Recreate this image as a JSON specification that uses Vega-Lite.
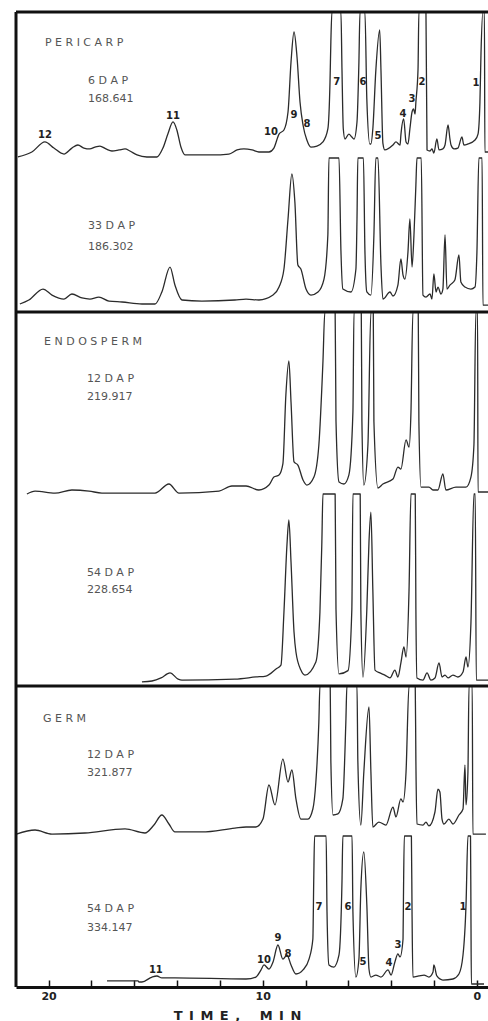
{
  "$schema": "https://vega.github.io/schema/vega-lite/v6.json",
  "padding": {"left": 14, "top": 10, "right": 0, "bottom": 0},
  "background": "white",
  "spacing": 0,
  "bounds": "flush",
  "config": {
    "view": {"stroke": null},
    "concat": {"spacing": 0},
    "line": {"color": "#2b2b2b", "strokeWidth": 1.3, "strokeJoin": "round", "interpolate": "monotone"},
    "text": {"font": "DejaVu Sans"}
  },
  "datasets": {
    "p6": [
      {"t":21.43,"r":0.7},{"t":20.78,"r":4.1},{"t":20.17,"r":11.0},{"t":19.75,"r":6.8},{"t":19.28,"r":2.7},{"t":18.91,"r":6.8},{"t":18.63,"r":8.9},{"t":18.35,"r":6.8},{"t":18.07,"r":6.2},{"t":17.83,"r":7.5},{"t":17.60,"r":8.2},{"t":17.32,"r":6.2},{"t":17.04,"r":4.8},{"t":16.71,"r":5.5},{"t":16.43,"r":6.2},{"t":16.20,"r":4.8},{"t":15.87,"r":2.1},{"t":15.41,"r":0.7},{"t":14.94,"r":0.7},{"t":14.66,"r":6.8},{"t":14.43,"r":16.4},{"t":14.19,"r":24.7},{"t":14.01,"r":19.2},{"t":13.82,"r":7.5},{"t":13.63,"r":2.1},{"t":13.07,"r":2.1},{"t":12.37,"r":2.1},{"t":11.58,"r":2.7},{"t":11.20,"r":5.5},{"t":10.88,"r":6.2},{"t":10.50,"r":5.5},{"t":10.18,"r":4.1},{"t":9.71,"r":4.1},{"t":9.48,"r":6.8},{"t":9.24,"r":16.4},{"t":9.01,"r":19.2},{"t":8.82,"r":31.5},{"t":8.68,"r":65.8},{"t":8.54,"r":86.3},{"t":8.40,"r":69.2},{"t":8.26,"r":38.4},{"t":8.12,"r":22.6},{"t":7.94,"r":12.3},{"t":7.75,"r":7.5},{"t":7.47,"r":8.2},{"t":7.19,"r":11.0},{"t":6.96,"r":19.9},{"t":6.86,"r":52.1},{"t":6.82,"r":79.5},{"t":6.77,"r":100},{"t":6.35,"r":100},{"t":6.30,"r":60},{"t":6.24,"r":20},{"t":6.16,"r":13.0},{"t":5.98,"r":16.4},{"t":5.84,"r":14.4},{"t":5.74,"r":13.0},{"t":5.60,"r":24.7},{"t":5.51,"r":65.8},{"t":5.46,"r":100},{"t":5.23,"r":100},{"t":5.14,"r":40},{"t":5.00,"r":9.6},{"t":4.95,"r":9.6},{"t":4.86,"r":20},{"t":4.72,"r":60},{"t":4.54,"r":87.7},{"t":4.48,"r":60},{"t":4.39,"r":10},{"t":4.30,"r":5.5},{"t":3.92,"r":8.9},{"t":3.78,"r":11.0},{"t":3.59,"r":8.9},{"t":3.55,"r":15.8},{"t":3.42,"r":26.7},{"t":3.31,"r":11.0},{"t":3.22,"r":9.6},{"t":3.13,"r":19.9},{"t":3.03,"r":31.5},{"t":2.96,"r":33.6},{"t":2.89,"r":30.1},{"t":2.85,"r":38.4},{"t":2.75,"r":61.0},{"t":2.71,"r":100},{"t":2.38,"r":100},{"t":2.33,"r":5.5},{"t":2.19,"r":4.8},{"t":2.10,"r":6.2},{"t":2.01,"r":3.4},{"t":1.87,"r":13.0},{"t":1.77,"r":5.5},{"t":1.59,"r":6.2},{"t":1.49,"r":8.9},{"t":1.35,"r":22.6},{"t":1.26,"r":13.0},{"t":1.21,"r":8.9},{"t":1.07,"r":6.2},{"t":0.89,"r":6.8},{"t":0.70,"r":14.4},{"t":0.61,"r":8.9},{"t":0.42,"r":9.6},{"t":0.09,"r":12.3},{"t":-0.05,"r":16.4},{"t":-0.14,"r":38.4},{"t":-0.19,"r":71.9},{"t":-0.28,"r":100},{"t":-0.35,"r":100},{"t":-0.37,"r":4.1},{"t":-0.61,"r":4.1}
    ],
    "p33": [
      {"t":21.34,"r":5.2},{"t":20.92,"r":7.8},{"t":20.26,"r":14.9},{"t":19.84,"r":11.0},{"t":19.28,"r":8.4},{"t":18.91,"r":11.7},{"t":18.44,"r":9.1},{"t":18.07,"r":8.4},{"t":17.65,"r":9.7},{"t":17.18,"r":7.1},{"t":16.57,"r":6.5},{"t":15.64,"r":5.2},{"t":15.03,"r":5.2},{"t":14.71,"r":13.0},{"t":14.33,"r":29.2},{"t":14.10,"r":17.5},{"t":13.77,"r":7.8},{"t":12.84,"r":7.1},{"t":11.30,"r":7.8},{"t":10.78,"r":8.4},{"t":10.18,"r":7.8},{"t":9.52,"r":11.0},{"t":9.24,"r":16.2},{"t":9.01,"r":27.9},{"t":8.82,"r":60.4},{"t":8.64,"r":89.6},{"t":8.50,"r":71.4},{"t":8.36,"r":30.5},{"t":8.22,"r":27.9},{"t":7.98,"r":14.9},{"t":7.75,"r":11.0},{"t":7.42,"r":13.0},{"t":7.14,"r":21.4},{"t":6.96,"r":50.0},{"t":6.91,"r":100},{"t":6.44,"r":100},{"t":6.35,"r":40},{"t":6.26,"r":14.9},{"t":5.88,"r":13.0},{"t":5.65,"r":27.9},{"t":5.60,"r":60},{"t":5.56,"r":100},{"t":5.30,"r":100},{"t":5.23,"r":40},{"t":5.14,"r":13.0},{"t":4.95,"r":11.0},{"t":4.81,"r":50},{"t":4.72,"r":100},{"t":4.62,"r":100},{"t":4.48,"r":30},{"t":4.39,"r":8.4},{"t":4.06,"r":13.0},{"t":3.92,"r":10.4},{"t":3.69,"r":17.5},{"t":3.55,"r":34.4},{"t":3.45,"r":24.0},{"t":3.36,"r":21.4},{"t":3.22,"r":39.0},{"t":3.13,"r":60.4},{"t":3.03,"r":29.2},{"t":2.94,"r":50.0},{"t":2.85,"r":82.5},{"t":2.80,"r":100},{"t":2.60,"r":100},{"t":2.52,"r":11.0},{"t":2.38,"r":9.7},{"t":2.19,"r":11.7},{"t":2.10,"r":8.4},{"t":2.01,"r":24.7},{"t":1.91,"r":13.0},{"t":1.82,"r":16.2},{"t":1.68,"r":11.7},{"t":1.59,"r":14.9},{"t":1.49,"r":50.0},{"t":1.40,"r":14.9},{"t":1.26,"r":17.5},{"t":1.03,"r":20.8},{"t":0.84,"r":37.0},{"t":0.75,"r":19.5},{"t":0.56,"r":16.2},{"t":0.28,"r":14.9},{"t":0.09,"r":16.2},{"t":0.00,"r":39.0},{"t":-0.09,"r":100},{"t":-0.24,"r":100},{"t":-0.28,"r":4.5},{"t":-0.61,"r":4.5}
    ],
    "e12": [
      {"t":21.01,"r":0},{"t":20.63,"r":1.6},{"t":19.70,"r":0.5},{"t":18.91,"r":2.2},{"t":18.11,"r":1.6},{"t":17.51,"r":0.5},{"t":15.03,"r":0.5},{"t":14.38,"r":5.5},{"t":13.91,"r":0.5},{"t":12.04,"r":1.6},{"t":11.44,"r":4.4},{"t":10.78,"r":4.4},{"t":10.18,"r":2.2},{"t":9.71,"r":4.9},{"t":9.48,"r":9.3},{"t":9.24,"r":10.4},{"t":9.06,"r":16.5},{"t":8.92,"r":54.4},{"t":8.78,"r":73.1},{"t":8.68,"r":50.5},{"t":8.54,"r":17.6},{"t":8.36,"r":15.9},{"t":8.12,"r":7.7},{"t":7.94,"r":4.9},{"t":7.61,"r":9.3},{"t":7.38,"r":26.9},{"t":7.19,"r":72.5},{"t":7.10,"r":100},{"t":6.62,"r":100},{"t":6.58,"r":40},{"t":6.44,"r":6.6},{"t":6.21,"r":5.5},{"t":5.98,"r":10.4},{"t":5.79,"r":45.1},{"t":5.74,"r":100},{"t":5.40,"r":100},{"t":5.37,"r":40},{"t":5.28,"r":4.9},{"t":5.09,"r":26.9},{"t":4.95,"r":100},{"t":4.84,"r":100},{"t":4.81,"r":40},{"t":4.62,"r":3.3},{"t":4.39,"r":5.5},{"t":3.92,"r":8.2},{"t":3.69,"r":14.8},{"t":3.55,"r":13.7},{"t":3.31,"r":29.7},{"t":3.17,"r":25.8},{"t":3.08,"r":45.1},{"t":2.99,"r":100},{"t":2.74,"r":100},{"t":2.71,"r":40},{"t":2.61,"r":3.8},{"t":2.24,"r":3.8},{"t":2.05,"r":2.2},{"t":1.82,"r":2.2},{"t":1.59,"r":11.0},{"t":1.45,"r":2.2},{"t":0.98,"r":3.8},{"t":0.51,"r":3.8},{"t":0.28,"r":9.3},{"t":0.14,"r":26.9},{"t":0.05,"r":100},{"t":-0.03,"r":100},{"t":-0.05,"r":1.1},{"t":-0.61,"r":1.1}
    ],
    "e54": [
      {"t":15.64,"r":2.1},{"t":15.17,"r":2.6},{"t":14.75,"r":4.2},{"t":14.33,"r":6.8},{"t":13.95,"r":3.6},{"t":13.77,"r":3.1},{"t":11.30,"r":3.6},{"t":10.32,"r":4.7},{"t":9.85,"r":5.2},{"t":9.38,"r":8.9},{"t":9.15,"r":10.9},{"t":9.01,"r":38.5},{"t":8.87,"r":73.4},{"t":8.78,"r":86.5},{"t":8.68,"r":64.6},{"t":8.54,"r":28.1},{"t":8.45,"r":17.7},{"t":8.22,"r":8.3},{"t":8.03,"r":5.7},{"t":7.52,"r":12.5},{"t":7.33,"r":38.5},{"t":7.24,"r":75.0},{"t":7.19,"r":100},{"t":6.62,"r":100},{"t":6.58,"r":40},{"t":6.44,"r":6.3},{"t":6.02,"r":8.0},{"t":5.84,"r":40},{"t":5.79,"r":100},{"t":5.45,"r":100},{"t":5.42,"r":40},{"t":5.32,"r":4.7},{"t":5.14,"r":40},{"t":5.04,"r":75},{"t":4.95,"r":90.6},{"t":4.86,"r":50},{"t":4.76,"r":8.3},{"t":4.53,"r":6.8},{"t":4.30,"r":5.7},{"t":4.06,"r":4.2},{"t":3.83,"r":8.3},{"t":3.69,"r":4.7},{"t":3.55,"r":12.0},{"t":3.41,"r":20.3},{"t":3.31,"r":15.1},{"t":3.17,"r":50.0},{"t":3.08,"r":100},{"t":2.88,"r":100},{"t":2.85,"r":40},{"t":2.80,"r":4.2},{"t":2.52,"r":3.1},{"t":2.33,"r":6.8},{"t":2.15,"r":3.1},{"t":1.96,"r":4.2},{"t":1.77,"r":12.0},{"t":1.63,"r":4.7},{"t":1.49,"r":5.7},{"t":1.35,"r":4.2},{"t":1.12,"r":5.7},{"t":0.89,"r":4.7},{"t":0.65,"r":7.3},{"t":0.51,"r":15.1},{"t":0.42,"r":9.9},{"t":0.28,"r":32.8},{"t":0.14,"r":100},{"t":0.08,"r":100},{"t":0.03,"r":3.1},{"t":-0.61,"r":3.1}
    ],
    "g12": [
      {"t":21.50,"r":1.3},{"t":20.63,"r":4.0},{"t":19.84,"r":1.3},{"t":18.30,"r":2.0},{"t":16.43,"r":4.7},{"t":15.50,"r":2.0},{"t":15.08,"r":7.3},{"t":14.71,"r":14.0},{"t":14.38,"r":8.0},{"t":14.10,"r":2.7},{"t":12.84,"r":2.7},{"t":11.30,"r":5.3},{"t":10.78,"r":6.0},{"t":10.32,"r":6.0},{"t":9.99,"r":11.3},{"t":9.71,"r":34.0},{"t":9.43,"r":20.7},{"t":9.06,"r":51.3},{"t":8.82,"r":36.0},{"t":8.64,"r":44.0},{"t":8.45,"r":24.7},{"t":8.22,"r":11.3},{"t":7.89,"r":11.3},{"t":7.66,"r":18.0},{"t":7.52,"r":36.0},{"t":7.38,"r":76.0},{"t":7.33,"r":100},{"t":6.85,"r":100},{"t":6.82,"r":50},{"t":6.72,"r":14.0},{"t":6.49,"r":14.7},{"t":6.26,"r":24.7},{"t":6.12,"r":76.0},{"t":6.07,"r":100},{"t":5.60,"r":100},{"t":5.56,"r":50},{"t":5.42,"r":7.3},{"t":5.28,"r":42.7},{"t":5.04,"r":86.0},{"t":4.95,"r":42.7},{"t":4.86,"r":6.0},{"t":4.58,"r":9.3},{"t":4.25,"r":7.3},{"t":3.92,"r":19.3},{"t":3.78,"r":12.7},{"t":3.55,"r":24.7},{"t":3.45,"r":22.7},{"t":3.31,"r":42.7},{"t":3.17,"r":100},{"t":2.88,"r":100},{"t":2.85,"r":50},{"t":2.80,"r":8.0},{"t":2.52,"r":7.3},{"t":2.38,"r":9.3},{"t":2.24,"r":6.7},{"t":1.96,"r":16.0},{"t":1.82,"r":31.3},{"t":1.73,"r":29.3},{"t":1.63,"r":11.3},{"t":1.54,"r":8.0},{"t":1.31,"r":11.3},{"t":1.12,"r":8.0},{"t":0.84,"r":14.0},{"t":0.65,"r":18.0},{"t":0.56,"r":47.3},{"t":0.51,"r":20.7},{"t":0.42,"r":42.7},{"t":0.37,"r":100},{"t":0.22,"r":100},{"t":0.19,"r":1.3},{"t":-0.42,"r":1.3}
    ],
    "g54": [
      {"t":17.27,"r":4.0},{"t":15.82,"r":4.0},{"t":15.78,"r":3.3},{"t":15.64,"r":3.3},{"t":15.17,"r":6.6},{"t":14.94,"r":7.3},{"t":14.71,"r":6.0},{"t":14.10,"r":6.0},{"t":10.78,"r":5.3},{"t":10.32,"r":6.6},{"t":10.08,"r":11.3},{"t":9.94,"r":14.6},{"t":9.71,"r":11.9},{"t":9.52,"r":16.6},{"t":9.29,"r":27.8},{"t":9.06,"r":18.5},{"t":8.87,"r":21.2},{"t":8.68,"r":14.6},{"t":8.45,"r":8.6},{"t":8.12,"r":11.3},{"t":7.84,"r":18.5},{"t":7.66,"r":31.8},{"t":7.62,"r":70},{"t":7.58,"r":100},{"t":7.04,"r":100},{"t":7.00,"r":50},{"t":6.91,"r":14.6},{"t":6.68,"r":13.2},{"t":6.44,"r":21.2},{"t":6.30,"r":70},{"t":6.26,"r":100},{"t":5.83,"r":100},{"t":5.79,"r":50},{"t":5.65,"r":6.6},{"t":5.51,"r":18.5},{"t":5.42,"r":64.9},{"t":5.28,"r":89.4},{"t":5.14,"r":54.3},{"t":5.04,"r":11.9},{"t":4.95,"r":6.6},{"t":4.72,"r":7.9},{"t":4.48,"r":6.6},{"t":4.15,"r":11.3},{"t":4.01,"r":7.9},{"t":3.83,"r":16.6},{"t":3.69,"r":21.9},{"t":3.59,"r":19.9},{"t":3.45,"r":31.8},{"t":3.43,"r":60},{"t":3.39,"r":100},{"t":3.06,"r":100},{"t":3.03,"r":50},{"t":2.99,"r":6.6},{"t":2.71,"r":7.3},{"t":2.47,"r":7.9},{"t":2.24,"r":6.6},{"t":2.05,"r":9.9},{"t":2.01,"r":14.6},{"t":1.87,"r":7.3},{"t":1.59,"r":4.6},{"t":1.12,"r":5.3},{"t":0.84,"r":8.6},{"t":0.65,"r":21.2},{"t":0.51,"r":54.3},{"t":0.42,"r":100},{"t":0.30,"r":100},{"t":0.28,"r":50},{"t":0.26,"r":2.0},{"t":-0.33,"r":2.0}
    ],
    "notes": [
      {"s":"p6","k":"tissue","t":20.17,"r":78.8,"txt":"P E R I C A R P"},
      {"s":"p6","k":"name","t":18.16,"r":52.7,"txt":"6  D A P"},
      {"s":"p6","k":"name","t":18.16,"r":40.4,"txt":"168.641"},
      {"s":"p33","k":"name","t":18.16,"r":55.8,"txt":"33  D A P"},
      {"s":"p33","k":"name","t":18.16,"r":42.2,"txt":"186.302"},
      {"s":"e12","k":"tissue","t":20.21,"r":83.5,"txt":"E N D O S P E R M"},
      {"s":"e12","k":"name","t":18.21,"r":63.2,"txt":"12  D A P"},
      {"s":"e12","k":"name","t":18.21,"r":53.3,"txt":"219.917"},
      {"s":"e54","k":"name","t":18.21,"r":58.9,"txt":"54  D A P"},
      {"s":"e54","k":"name","t":18.21,"r":50.0,"txt":"228.654"},
      {"s":"g12","k":"tissue","t":20.26,"r":78.0,"txt":"G E R M"},
      {"s":"g12","k":"name","t":18.21,"r":54.0,"txt":"12  D A P"},
      {"s":"g12","k":"name","t":18.21,"r":42.0,"txt":"321.877"},
      {"s":"g54","k":"name","t":18.21,"r":51.7,"txt":"54  D A P"},
      {"s":"g54","k":"name","t":18.21,"r":39.1,"txt":"334.147"},
      {"s":"p6","k":"peak","t":20.17,"r":15.8,"txt":"12"},
      {"s":"p6","k":"peak","t":14.19,"r":28.8,"txt":"11"},
      {"s":"p6","k":"peak","t":9.62,"r":17.8,"txt":"10"},
      {"s":"p6","k":"peak","t":8.54,"r":29.5,"txt":"9"},
      {"s":"p6","k":"peak","t":7.94,"r":23.3,"txt":"8"},
      {"s":"p6","k":"peak","t":6.54,"r":52,"txt":"7"},
      {"s":"p6","k":"peak","t":5.32,"r":52,"txt":"6"},
      {"s":"p6","k":"peak","t":4.62,"r":15.1,"txt":"5"},
      {"s":"p6","k":"peak","t":3.45,"r":30.1,"txt":"4"},
      {"s":"p6","k":"peak","t":3.03,"r":40.4,"txt":"3"},
      {"s":"p6","k":"peak","t":2.57,"r":52,"txt":"2"},
      {"s":"p6","k":"peak","t":0.05,"r":51.4,"txt":"1"},
      {"s":"g54","k":"peak","t":14.99,"r":11.3,"txt":"11"},
      {"s":"g54","k":"peak","t":9.94,"r":17.9,"txt":"10"},
      {"s":"g54","k":"peak","t":9.29,"r":32.5,"txt":"9"},
      {"s":"g54","k":"peak","t":8.82,"r":21.9,"txt":"8"},
      {"s":"g54","k":"peak","t":7.38,"r":53,"txt":"7"},
      {"s":"g54","k":"peak","t":6.02,"r":53,"txt":"6"},
      {"s":"g54","k":"peak","t":5.32,"r":16.6,"txt":"5"},
      {"s":"g54","k":"peak","t":4.11,"r":15.9,"txt":"4"},
      {"s":"g54","k":"peak","t":3.69,"r":27.8,"txt":"3"},
      {"s":"g54","k":"peak","t":3.22,"r":53,"txt":"2"},
      {"s":"g54","k":"peak","t":0.65,"r":53,"txt":"1"}
    ]
  },
  "vconcat": [
    {
      "width": 474, "height": 146,
      "layer": [
        {"data": {"name": "p6"}, "mark": "line",
         "encoding": {"x": {"field": "t", "type": "quantitative", "scale": {"domain": [-0.61, 21.52], "reverse": true, "nice": false, "zero": false}, "axis": null},
                      "y": {"field": "r", "type": "quantitative", "scale": {"domain": [0, 100], "nice": false}, "axis": null}}},
        {"data": {"name": "notes"}, "transform": [{"filter": "datum.s === 'p6' && datum.k === 'peak'"}],
         "mark": {"type": "text", "fontSize": 10, "fontWeight": "bold", "color": "#222", "align": "center", "baseline": "middle"},
         "encoding": {"x": {"field": "t", "type": "quantitative"}, "y": {"field": "r", "type": "quantitative"}, "text": {"field": "txt"}}},
        {"data": {"name": "notes"}, "transform": [{"filter": "datum.s === 'p6' && datum.k !== 'peak'"}],
         "mark": {"type": "text", "fontSize": 11, "color": "#555", "align": "left", "baseline": "middle"},
         "encoding": {"x": {"field": "t", "type": "quantitative"}, "y": {"field": "r", "type": "quantitative"}, "text": {"field": "txt"}}},
        {"data": {"values": [{}]}, "mark": {"type": "rule", "color": "#111", "strokeWidth": 3}, "encoding": {"x": {"datum": 21.52}}},
        {"data": {"values": [{}]}, "mark": {"type": "rule", "color": "#111", "strokeWidth": 3}, "encoding": {"y": {"datum": 100}}}
      ]
    },
    {
      "width": 474, "height": 154,
      "layer": [
        {"data": {"name": "p33"}, "mark": "line",
         "encoding": {"x": {"field": "t", "type": "quantitative", "scale": {"domain": [-0.61, 21.52], "reverse": true, "nice": false, "zero": false}, "axis": null},
                      "y": {"field": "r", "type": "quantitative", "scale": {"domain": [0, 100], "nice": false}, "axis": null}}},
        {"data": {"name": "notes"}, "transform": [{"filter": "datum.s === 'p33'"}],
         "mark": {"type": "text", "fontSize": 11, "color": "#555", "align": "left", "baseline": "middle"},
         "encoding": {"x": {"field": "t", "type": "quantitative"}, "y": {"field": "r", "type": "quantitative"}, "text": {"field": "txt"}}},
        {"data": {"values": [{}]}, "mark": {"type": "rule", "color": "#111", "strokeWidth": 3}, "encoding": {"x": {"datum": 21.52}}}
      ]
    },
    {
      "width": 474, "height": 182,
      "layer": [
        {"data": {"name": "e12"}, "mark": "line",
         "encoding": {"x": {"field": "t", "type": "quantitative", "scale": {"domain": [-0.61, 21.52], "reverse": true, "nice": false, "zero": false}, "axis": null},
                      "y": {"field": "r", "type": "quantitative", "scale": {"domain": [0, 100], "nice": false}, "axis": null}}},
        {"data": {"name": "notes"}, "transform": [{"filter": "datum.s === 'e12'"}],
         "mark": {"type": "text", "fontSize": 11, "color": "#555", "align": "left", "baseline": "middle"},
         "encoding": {"x": {"field": "t", "type": "quantitative"}, "y": {"field": "r", "type": "quantitative"}, "text": {"field": "txt"}}},
        {"data": {"values": [{}]}, "mark": {"type": "rule", "color": "#111", "strokeWidth": 3}, "encoding": {"x": {"datum": 21.52}}},
        {"data": {"values": [{}]}, "mark": {"type": "rule", "color": "#111", "strokeWidth": 3}, "encoding": {"y": {"datum": 100}}}
      ]
    },
    {
      "width": 474, "height": 192,
      "layer": [
        {"data": {"name": "e54"}, "mark": "line",
         "encoding": {"x": {"field": "t", "type": "quantitative", "scale": {"domain": [-0.61, 21.52], "reverse": true, "nice": false, "zero": false}, "axis": null},
                      "y": {"field": "r", "type": "quantitative", "scale": {"domain": [0, 100], "nice": false}, "axis": null}}},
        {"data": {"name": "notes"}, "transform": [{"filter": "datum.s === 'e54'"}],
         "mark": {"type": "text", "fontSize": 11, "color": "#555", "align": "left", "baseline": "middle"},
         "encoding": {"x": {"field": "t", "type": "quantitative"}, "y": {"field": "r", "type": "quantitative"}, "text": {"field": "txt"}}},
        {"data": {"values": [{}]}, "mark": {"type": "rule", "color": "#111", "strokeWidth": 3}, "encoding": {"x": {"datum": 21.52}}}
      ]
    },
    {
      "width": 474, "height": 150,
      "layer": [
        {"data": {"name": "g12"}, "mark": "line",
         "encoding": {"x": {"field": "t", "type": "quantitative", "scale": {"domain": [-0.61, 21.52], "reverse": true, "nice": false, "zero": false}, "axis": null},
                      "y": {"field": "r", "type": "quantitative", "scale": {"domain": [0, 100], "nice": false}, "axis": null}}},
        {"data": {"name": "notes"}, "transform": [{"filter": "datum.s === 'g12'"}],
         "mark": {"type": "text", "fontSize": 11, "color": "#555", "align": "left", "baseline": "middle"},
         "encoding": {"x": {"field": "t", "type": "quantitative"}, "y": {"field": "r", "type": "quantitative"}, "text": {"field": "txt"}}},
        {"data": {"values": [{}]}, "mark": {"type": "rule", "color": "#111", "strokeWidth": 3}, "encoding": {"x": {"datum": 21.52}}},
        {"data": {"values": [{}]}, "mark": {"type": "rule", "color": "#111", "strokeWidth": 3}, "encoding": {"y": {"datum": 100}}}
      ]
    },
    {
      "width": 474, "height": 151,
      "layer": [
        {"data": {"name": "g54"}, "mark": "line",
         "encoding": {"x": {"field": "t", "type": "quantitative", "scale": {"domain": [-0.61, 21.52], "reverse": true, "nice": false, "zero": false},
                            "axis": {"title": "T\u2002I\u2002M\u2002E\u2002,\u2003\u2002M\u2002I\u2002N", "values": [0,1,2,3,4,5,6,7,8,9,10,11,12,13,14,15,16,17,18,19,20,21],
                                     "labelExpr": "datum.value % 5 === 0 ? datum.label : ''", "grid": false,
                                     "domainColor": "#111", "domainWidth": 3, "tickColor": "#111", "tickWidth": 1.5, "tickSize": -7,
                                     "labelFont": "DejaVu Sans", "labelFontSize": 11, "labelFontWeight": "bold", "labelColor": "#222", "labelPadding": 10,
                                     "titleFont": "DejaVu Sans", "titleFontSize": 13, "titleFontWeight": "bold", "titleColor": "#222", "titlePadding": 8, "titleX": 221}},
                      "y": {"field": "r", "type": "quantitative", "scale": {"domain": [0, 100], "nice": false}, "axis": null}}},
        {"data": {"name": "notes"}, "transform": [{"filter": "datum.s === 'g54' && datum.k === 'peak'"}],
         "mark": {"type": "text", "fontSize": 10, "fontWeight": "bold", "color": "#222", "align": "center", "baseline": "middle"},
         "encoding": {"x": {"field": "t", "type": "quantitative"}, "y": {"field": "r", "type": "quantitative"}, "text": {"field": "txt"}}},
        {"data": {"name": "notes"}, "transform": [{"filter": "datum.s === 'g54' && datum.k !== 'peak'"}],
         "mark": {"type": "text", "fontSize": 11, "color": "#555", "align": "left", "baseline": "middle"},
         "encoding": {"x": {"field": "t", "type": "quantitative"}, "y": {"field": "r", "type": "quantitative"}, "text": {"field": "txt"}}},
        {"data": {"values": [{}]}, "mark": {"type": "rule", "color": "#111", "strokeWidth": 3}, "encoding": {"x": {"datum": 21.52}}}
      ]
    }
  ]
}
